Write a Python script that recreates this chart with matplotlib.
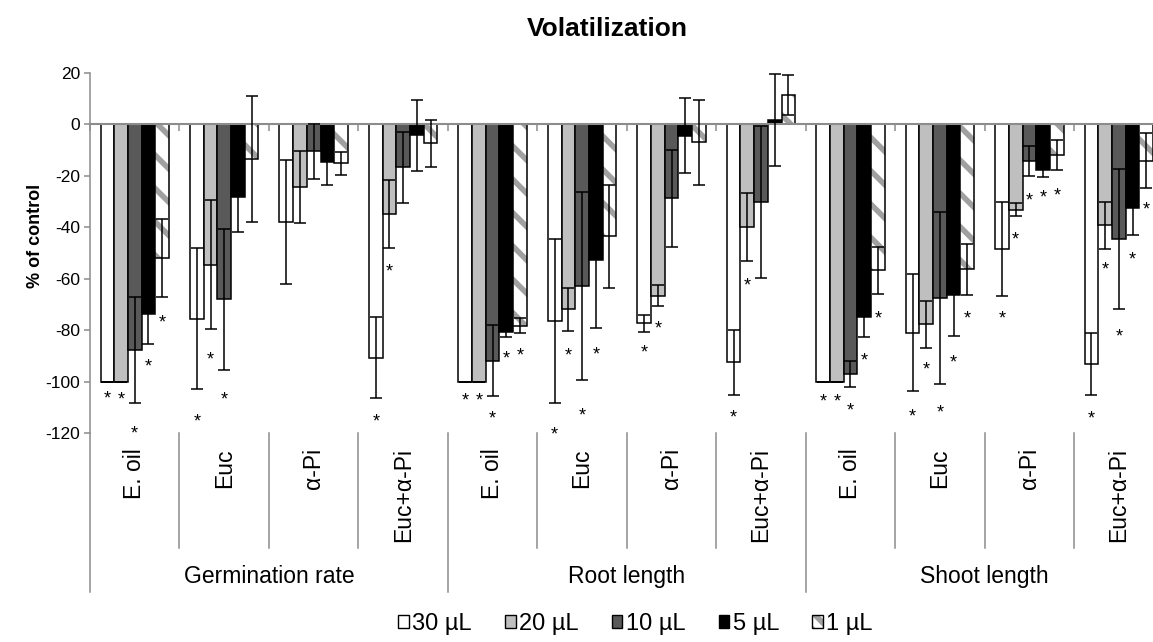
import numpy as np
import matplotlib
matplotlib.use("Agg")
import matplotlib.pyplot as plt
import matplotlib.transforms as mtransforms
from matplotlib.patches import Patch, Rectangle
from matplotlib.legend_handler import HandlerBase

plt.rcParams['font.family'] = ['Liberation Sans', 'DejaVu Sans']
plt.rcParams['hatch.linewidth'] = 4.0

# ---------------- data ----------------
categories = ["Germination rate", "Root length", "Shoot length"]
treatments = ["E. oil", "Euc", "α-Pi", "Euc+α-Pi"]
series_labels = ["30 µL", "20 µL", "10 µL", "5 µL", "1 µL"]
nan = np.nan

v30 = [-100, -75.6, -38.1, -90.7, -100, -76.5, -77.4, -92.6, -100, -81.0, -48.6, -93.1]
e30 = [0, 27.4, 24.2, 15.6, 0, 31.7, 3.3, 12.7, 0, 22.7, 18.2, 12.0]
s30 = [-104.5, -113.5, nan, -113.3, -105.1, -118.4, -86.7, -112.0, -105.5, -111.6, -73.3, -112.2]

v20 = [-100, -54.6, -24.3, -34.8, -100, -72.0, -66.6, -40.0, -100, -77.8, -33.2, -39.3]
e20 = [0, 25.0, 14.0, 13.2, 0, 8.4, 4.2, 13.1, 0, 9.2, 2.6, 9.1]
s20 = [-105.0, -89.4, nan, -55.2, -105.1, -87.7, -77.4, -60.6, -105.5, -93.3, -42.6, -54.2]

v10 = [-87.7, -68.1, -10.6, -16.8, -92.0, -63.0, -28.8, -30.3, -97.0, -67.7, -14.4, -44.5]
e10 = [20.7, 27.4, 10.7, 13.8, 13.8, 36.6, 18.9, 29.4, 5.0, 33.4, 5.9, 27.2]
s10 = [-118.0, -104.9, nan, nan, -112.2, -110.9, nan, nan, -109.0, -110.0, -27.5, -80.2]

v5 = [-73.8, -28.4, -14.8, -4.4, -80.6, -52.9, -4.5, 1.5, -75.1, -66.4, -17.7, -32.6]
e5 = [11.7, 13.5, 8.9, 13.7, 2.0, 26.2, 14.5, 17.8, 7.5, 16.1, 3.0, 10.6]
s5 = [-92.2, nan, nan, nan, -89.0, -87.5, nan, nan, -89.7, -90.3, -26.4, -50.3]

v1 = [-52.0, -13.7, -15.2, -7.5, -78.3, -43.6, -7.1, 11.4, -56.8, -56.4, -11.9, -14.2]
e1 = [15.3, 24.5, 4.4, 9.0, 3.0, 19.9, 16.4, 7.7, 9.2, 10.0, 5.9, 10.7]
s1 = [-74.8, nan, nan, nan, -87.7, nan, nan, nan, -73.3, -73.5, -25.8, -31.0]

values = [v30, v20, v10, v5, v1]
errors = [e30, e20, e10, e5, e1]
stars = [s30, s20, s10, s5, s1]
yticks = [20, 0, -20, -40, -60, -80, -100, -120]

# ---------------- style ----------------
colors = ["white", "#bfbfbf", "#595959", "black", "white"]
hatch_gray = "#a0a0a0"
axis_gray = "#8c8c8c"

W, H = 1153, 642
fig = plt.figure(figsize=(W / 100, H / 100), dpi=100)
ax_left, ax_right, ax_top, ax_bottom = 90, 1163.6, 72.6, 433
ax = fig.add_axes([ax_left / W, 1 - ax_bottom / H, (ax_right - ax_left) / W, (ax_bottom - ax_top) / H])

n_groups = len(categories) * len(treatments)
centers = np.arange(n_groups) + 0.5
bw = 0.153

for k in range(len(values)):
    xs = centers + (k - 2) * bw
    if k == 4:
        ax.bar(xs, values[k], bw, color="white", edgecolor=hatch_gray, hatch="\\", linewidth=0, zorder=2)
        ax.bar(xs, values[k], bw, facecolor="none", edgecolor="black", linewidth=1.1, zorder=2.1)
    else:
        ax.bar(xs, values[k], bw, color=colors[k], edgecolor="black", linewidth=1.1, zorder=2)
    ax.errorbar(xs, values[k], yerr=errors[k], fmt="none", ecolor="black", elinewidth=1.1,
                capsize=4.5, capthick=1.1, zorder=4)
    star_tr = mtransforms.offset_copy(ax.transData, fig=fig, y=-0.58 * 13, units="points")
    for xi, sy in zip(xs, stars[k]):
        if not np.isnan(sy):
            ax.text(xi, sy, "*", ha="center", va="baseline", fontsize=13, transform=star_tr, zorder=5)

ax.set_xlim(0, n_groups)
ax.set_ylim(-120, 20)
ax.set_yticks(yticks)
ax.set_yticklabels([str(t) for t in yticks], fontsize=12.5)
ax.tick_params(axis="y", direction="out", length=4, width=1.1, color=axis_gray, pad=3)
ax.set_xticks(np.arange(n_groups + 1))
ax.set_xticklabels([])
ax.tick_params(axis="x", direction="out", length=5, width=1.1, color=axis_gray)

for s in ["top", "right"]:
    ax.spines[s].set_visible(False)
ax.spines["bottom"].set_position(("data", 0))
ax.spines["bottom"].set_color(axis_gray)
ax.spines["bottom"].set_linewidth(1.5)
ax.spines["bottom"].set_zorder(3)
ax.spines["left"].set_color(axis_gray)
ax.spines["left"].set_linewidth(1.1)

# multi-level category axis below the plot
blend = mtransforms.blended_transform_factory(ax.transData, ax.transAxes)
ax_h = ax_bottom - ax_top
inner_end = -(548 - ax_bottom) / ax_h
outer_end = -(592 - ax_bottom) / ax_h
sub_top = -(448 - ax_bottom) / ax_h
super_y = -(576.7 - ax_bottom) / ax_h

ax.plot([0, 0], [0, outer_end], transform=blend, clip_on=False, color=axis_gray, lw=1.1)
for b in range(1, n_groups + 1):
    end = outer_end if b % len(treatments) == 0 else inner_end
    ax.plot([b, b], [0, end], transform=blend, clip_on=False, color=axis_gray, lw=1.1)

for i in range(n_groups):
    ax.text(centers[i], sub_top, treatments[i % len(treatments)], rotation=90, ha="center", va="top",
            fontsize=16.5, transform=blend)
for j, cat in enumerate(categories):
    cx = j * len(treatments) + len(treatments) / 2
    ax.text(cx, super_y, cat, ha="center", va="center", fontsize=16.5, transform=blend)

# title and y label
fig.text(607.5 / W, 1 - 36 / H, "Volatilization", ha="center", va="baseline", fontsize=19, fontweight="bold")
fig.text(35.5 / W, 1 - 236 / H, "% of control", rotation=90, ha="center", va="center", fontsize=13,
         fontweight="bold")


# legend
class HatchBoxHandler(HandlerBase):
    def create_artists(self, legend, orig_handle, xdescent, ydescent, width, height, fontsize, trans):
        r1 = Rectangle((-xdescent, -ydescent), width, height, facecolor="white", edgecolor=hatch_gray,
                       hatch="\\\\", linewidth=0, transform=trans)
        r2 = Rectangle((-xdescent, -ydescent), width, height, facecolor="none", edgecolor="black",
                       linewidth=1.0, transform=trans)
        return [r1, r2]


handles = [Patch(facecolor=colors[k], edgecolor="black", linewidth=1.0) for k in range(len(values))]
fig.legend(handles, series_labels, loc="center", bbox_to_anchor=(635.5 / W, 1 - 624 / H), ncol=5,
           frameon=False, fontsize=17, handlelength=0.45, handleheight=0.45, handletextpad=0.15,
           columnspacing=1.4, borderaxespad=0, borderpad=0,
           handler_map={handles[4]: HatchBoxHandler()})

fig.savefig("out.png", dpi=100)
